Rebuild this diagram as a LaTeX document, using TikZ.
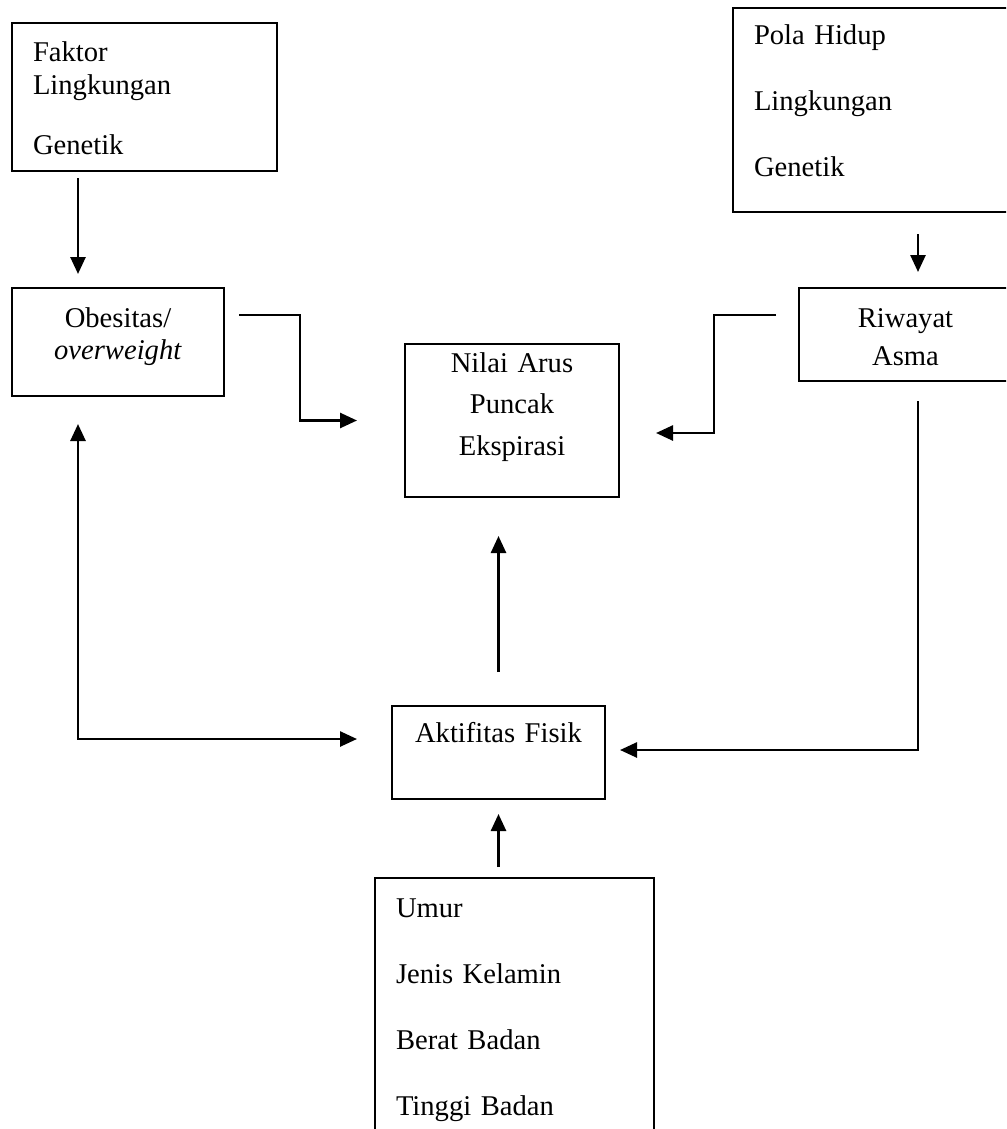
\documentclass[tikz,border=0pt]{standalone}
\usepackage{fontspec}
\setmainfont{Liberation Serif}
\usetikzlibrary{arrows.meta}

\begin{document}
\begin{tikzpicture}[x=0.5pt, y=-0.5pt,
        box/.style={draw, line width=1pt, inner ysep=0pt, anchor=base west},
        arr/.style={line width=1.3pt, -{Triangle[length=8.5pt, width=7.5pt]}},
        arrb/.style={line width=1.3pt, {Triangle[length=8.5pt, width=7.5pt]}-{Triangle[length=8.5pt, width=7.5pt]}}]
        \useasboundingbox (0, 0) rectangle (1006, 1129);
        \clip (0, 0) rectangle (1006, 1129);
        \node[box, inner xsep=10.5pt, text width=111.5pt, align=left, text height=19.5pt, text depth=54.5pt, font=\fontsize{14.3}{16.25}\selectfont] (faktor) at (11, 62) {Faktor\\Lingkungan\\[13.75pt]Genetik};
        \node[box, inner xsep=10.5pt, text width=119pt, align=left, text height=18.5pt, text depth=83.5pt, font=\fontsize{14.3}{33}\selectfont] (pola) at (732, 45) {Pola Hidup\\Lingkungan\\Genetik};
        \node[box, inner xsep=5pt, text width=96pt, align=center, text height=19.5pt, text depth=34.5pt, font=\fontsize{14.3}{16}\selectfont] (obes) at (11, 327) {Obesitas/\\\textit{overweight}};
        \node[box, inner xsep=5pt, text width=96.5pt, align=center, text height=19.5pt, text depth=27pt, font=\fontsize{14.3}{19}\selectfont] (riw) at (798, 327) {Riwayat\\Asma};
        \node[box, inner xsep=5pt, text width=97pt, align=center, text height=14pt, text depth=62.5pt, font=\fontsize{14.3}{20.9}\selectfont] (nilai) at (404, 372) {Nilai Arus\\Puncak\\Ekspirasi};
        \node[box, inner xsep=5pt, text width=96.5pt, align=center, text height=18pt, text depth=28.5pt, font=\fontsize{14.3}{16}\selectfont] (akt) at (391, 742) {Aktifitas Fisik};
        \node[box, inner xsep=10.5pt, text width=118.5pt, align=left, text height=19.5pt, text depth=141.5pt, font=\fontsize{14.3}{33}\selectfont] (ciri) at (374, 917) {Umur\\Jenis Kelamin\\Berat Badan\\Tinggi Badan};
        \draw[arr] ([xshift=-33.25pt, yshift=-3pt]faktor.south) -- ([xshift=-20pt, yshift=6.5pt]obes.north);
        \draw[arr] ([xshift=22.5pt, yshift=-10.5pt]pola.south) -- ([xshift=6.25pt, yshift=7.5pt]riw.north);
        \draw[arr] ([xshift=7pt, yshift=13.5pt]obes.east) -- ++(30.5pt, 0) |- ([xshift=-23.5pt]nilai.west);
        \draw[arr] ([xshift=-11pt, yshift=9.75pt]riw.west) -- ++(-31pt, 0) |- ([xshift=18pt, yshift=-6.25pt]nilai.east);
        \draw[arr] ([xshift=6.25pt, yshift=-9.5pt]riw.south) |- ([xshift=7pt, yshift=1.25pt]akt.east);
        \draw[arr, shorten >=19pt] ([yshift=16.5pt]akt.north) -- (akt.north |- nilai.south);
        \draw[arrb] ([xshift=-20pt, yshift=-13.5pt]obes.south) |- ([xshift=-17pt, yshift=6.75pt]akt.west);
        \draw[arr, shorten <=5pt, shorten >=7pt] (akt.south |- ciri.north) -- (akt.south);
    \end{tikzpicture}
\end{document}
